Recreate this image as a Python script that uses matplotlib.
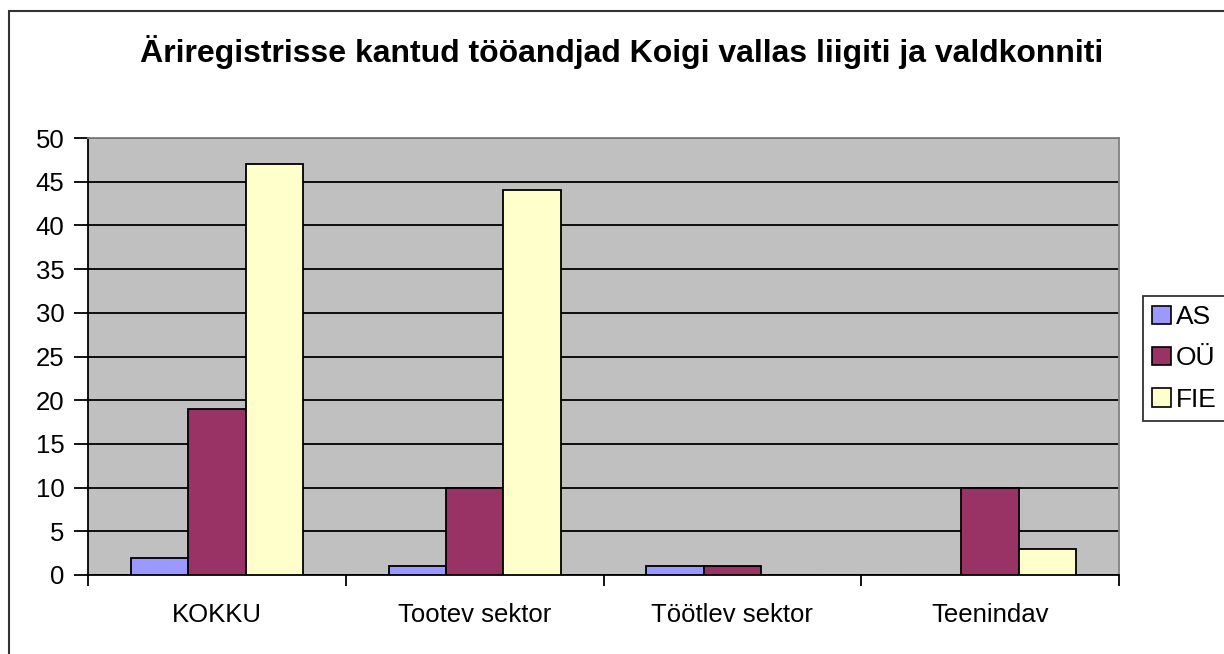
import matplotlib
matplotlib.use("Agg")
import matplotlib.pyplot as plt
import numpy as np
from matplotlib.patches import Rectangle, Patch

categories = ["KOKKU", "Tootev sektor", "Töötlev sektor", "Teenindav"]
series_names = ["AS", "OÜ", "FIE"]
as_vals = [2, 1, 1, 0]
ou_vals = [19, 10, 1, 10]
fie_vals = [47, 44, 0, 3]
colors = ["#9999FF", "#993366", "#FFFFCC"]
title = "Äriregistrisse kantud tööandjad Koigi vallas liigiti ja valdkonniti"

plt.rcParams['font.family'] = ['Liberation Sans', 'DejaVu Sans']

W, H = 1224, 654
fig = plt.figure(figsize=(W/100, H/100), dpi=100)
fig.patch.set_facecolor("white")

# outer chart frame (extends beyond the image right and bottom)
fig.patches.append(Rectangle((9/W, -0.1), 1.2, 1 - 11/H + 0.1, transform=fig.transFigure,
                             fill=False, edgecolor="#333333", lw=1.5, zorder=0))

left, right, top, bottom = 88, 1119, 138, 575
ax = fig.add_axes([left/W, 1 - bottom/H, (right-left)/W, (bottom-top)/H])
ax.set_facecolor("#C0C0C0")

x = np.arange(len(categories))
bw = 1/4.5
for i, (vals, name) in enumerate(zip([as_vals, ou_vals, fie_vals], series_names)):
    ax.bar(x + (i-1)*bw, vals, width=bw, color=colors[i], edgecolor="black",
           linewidth=1.3, zorder=3, label=name)

ax.set_xlim(-0.5, len(categories)-0.5)
ax.set_ylim(0, 50)
ax.set_yticks(np.arange(0, 51, 5))
ax.yaxis.grid(True, color="black", lw=1.3, zorder=1)
ax.set_axisbelow(True)
ax.set_xticks(x)
ax.set_xticklabels(categories, fontsize=18.5)
ax.tick_params(axis='x', length=0, pad=20)
ax.set_xticks(np.arange(-0.5, len(categories), 1), minor=True)
ax.tick_params(axis='x', which='minor', length=8, width=1.3, direction='out')
ax.tick_params(axis='y', length=10, width=1.3, direction='out', labelsize=18.5, pad=7)

for s in ['top', 'right']:
    ax.spines[s].set_color("#808080")
    ax.spines[s].set_linewidth(1.3)
for s in ['left', 'bottom']:
    ax.spines[s].set_color("black")
    ax.spines[s].set_linewidth(1.3)

fig.text((137+1107)/2/W, 1 - 52/H, title, ha='center', va='center',
         fontsize=23, fontweight='bold')

handles = [Patch(facecolor=c, edgecolor='black', lw=1.2) for c in colors]
leg = fig.legend(handles, series_names, loc='upper left',
                 bbox_to_anchor=(1143/W, 1 - 296/H), fontsize=19,
                 frameon=True, fancybox=False, edgecolor='black',
                 handlelength=0.7, handleheight=0.7, handletextpad=0.2,
                 borderpad=0.35, labelspacing=0.65, borderaxespad=0)
leg.get_frame().set_linewidth(1.3)

fig.savefig("out.png", dpi=100, facecolor="white")
